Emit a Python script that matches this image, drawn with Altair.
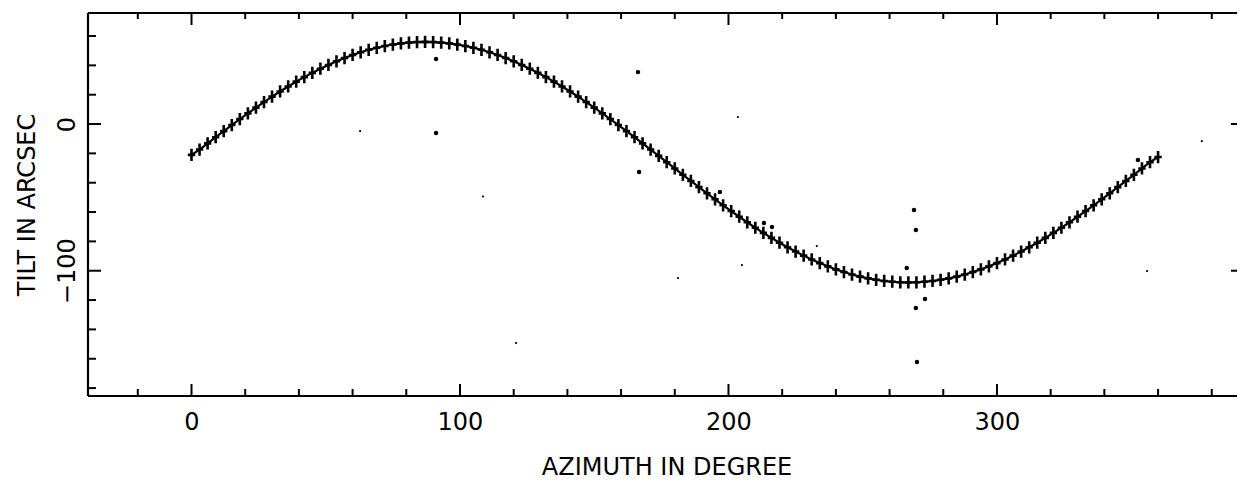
import altair as alt
import pandas as pd

# ---- data ----
azimuth = [0, 3, 6, 9, 12, 15, 18, 21, 24, 27, 30, 33, 36, 39, 42, 45, 48, 51, 54, 57,
           60, 63, 66, 69, 72, 75, 78, 81, 84, 87, 90, 93, 96, 99, 102, 105, 108, 111, 114, 117,
           120, 123, 126, 129, 132, 135, 138, 141, 144, 147, 150, 153, 156, 159, 162, 165, 168, 171, 174, 177,
           180, 183, 186, 189, 192, 195, 198, 201, 204, 207, 210, 213, 216, 219, 222, 225, 228, 231, 234, 237,
           240, 243, 246, 249, 252, 255, 258, 261, 264, 267, 270, 273, 276, 279, 282, 285, 288, 291, 294, 297,
           300, 303, 306, 309, 312, 315, 318, 321, 324, 327, 330, 333, 336, 339, 342, 345, 348, 351, 354, 357,
           360]
tilt = [-21.0, -17.4, -13.2, -9.0, -4.8, -0.7, 3.4, 7.3, 11.2, 15.0, 18.7, 22.2, 25.6, 28.9, 32.0, 34.9, 37.7, 40.3, 42.8, 45.0,
        47.1, 48.9, 50.6, 52.0, 53.2, 54.2, 55.0, 55.5, 55.9, 56.0, 55.9, 55.5, 55.0, 54.2, 53.2, 52.0, 50.6, 48.9, 47.1, 45.0,
        42.8, 40.3, 37.7, 34.9, 32.0, 28.9, 25.6, 22.2, 18.7, 15.0, 11.2, 7.3, 3.4, -0.7, -4.8, -9.0, -13.2, -17.4, -21.7, -26.0,
        -30.3, -34.6, -38.8, -43.0, -47.2, -51.3, -55.4, -59.3, -63.2, -67.0, -70.7, -74.2, -77.6, -80.9, -84.0, -86.9, -89.7, -92.3, -94.8, -97.0,
        -99.1, -100.9, -102.6, -104.0, -105.2, -106.2, -107.0, -107.5, -107.9, -108.0, -107.9, -107.5, -107.0, -106.2, -105.2, -104.0, -102.6, -100.9, -99.1, -97.0,
        -94.8, -92.3, -89.7, -86.9, -84.0, -80.9, -77.6, -74.2, -70.7, -67.0, -63.2, -59.3, -55.4, -51.3, -47.2, -43.0, -38.8, -34.6, -30.3, -26.0,
        -22.5]

out_azimuth = [91.1, 91.1, 166.3, 203.5, 166.7, 108.6, 196.8, 213.2, 216.2, 62.8, 269.1, 269.8,
               352.5, 376.3, 232.9, 266.4, 273.2, 269.8, 270.2, 355.9, 120.9, 181.2, 205.0]
out_tilt = [44.3, -6.1, 35.4, 4.8, -32.7, -49.4, -46.4, -67.5, -70.2, -4.8, -58.6, -72.3,
            -24.5, -11.6, -83.2, -98.2, -119.3, -125.4, -162.2, -100.2, -149.3, -105.0, -96.1]
out_dot = [20, 20, 20, 5, 20, 5, 20, 20, 20, 5, 20, 20, 20, 5, 5, 20, 20, 20, 20, 5, 5, 5, 5]

x_major = [0, 100, 200, 300]
x_minor = [-20, 20, 40, 60, 80, 120, 140, 160, 180, 220, 240, 260, 280, 320, 340, 360, 380]
y_major = [0, -100]
y_minor = [60, 40, 20, -20, -40, -60, -80, -120, -140, -160, -180]

x_domain = [-38.55, 389.4]
y_domain = [-185.4, 75.7]

W, H = 1149, 383
FONT = "DejaVu Sans"

curve = pd.DataFrame({"az": azimuth, "tilt": tilt})
outl = pd.DataFrame({"az": out_azimuth, "tilt": out_tilt, "dot": out_dot})
xmaj = pd.DataFrame({"v": x_major})
xmin = pd.DataFrame({"v": x_minor})
ymaj = pd.DataFrame({"v": y_major})
ymin = pd.DataFrame({"v": y_minor})

xs = alt.Scale(domain=x_domain, nice=False, zero=False)
ys = alt.Scale(domain=y_domain, nice=False, zero=False)

x_axis = alt.Axis(values=x_major, ticks=False, tickSize=0, domain=False, grid=False,
                  labelFont=FONT, labelFontSize=24, labelColor="black", labelPadding=14.5,
                  labelFlush=False,
                  title="AZIMUTH IN DEGREE", titleFont=FONT, titleFontSize=24,
                  titleFontWeight="normal", titleColor="black", titleBaseline="top",
                  titleY=59, titleX=(1157) / 2, titleAlign="center")
y_axis = alt.Axis(values=y_major, ticks=False, tickSize=0, domain=False, grid=False,
                  labelFont=FONT, labelFontSize=24, labelColor="black", labelPadding=8.5,
                  labelAngle=270, labelAlign="center", labelBaseline="bottom",
                  title="TILT IN ARCSEC", titleFont=FONT, titleFontSize=24,
                  titleFontWeight="normal", titleColor="black", titleAngle=270,
                  titleAlign="center", titleBaseline="bottom", titleX=-49, titleY=H / 2)

line = alt.Chart(curve).mark_line(color="black", strokeWidth=2.2).encode(
    x=alt.X("az:Q", scale=xs, axis=x_axis),
    y=alt.Y("tilt:Q", scale=ys, axis=y_axis),
)
plus = alt.Chart(curve).mark_point(
    shape="M-0.6,0H0.6M0,-1V1", filled=False, stroke="black", strokeWidth=2.6,
    size=150, opacity=1,
).encode(x=alt.X("az:Q", scale=xs), y=alt.Y("tilt:Q", scale=ys))

dots = alt.Chart(outl).mark_circle(color="black", opacity=1).encode(
    x=alt.X("az:Q", scale=xs), y=alt.Y("tilt:Q", scale=ys),
    size=alt.Size("dot:Q", scale=None, legend=None),
)

# frame (left, top, bottom)
frame_top = alt.Chart().mark_rule(color="black", strokeWidth=2.2).encode(
    x=alt.value(0), x2=alt.value(W), y=alt.value(0))
frame_bottom = alt.Chart().mark_rule(color="black", strokeWidth=2.2).encode(
    x=alt.value(0), x2=alt.value(W), y=alt.value(H))
frame_left = alt.Chart().mark_rule(color="black", strokeWidth=2.2).encode(
    x=alt.value(0), y=alt.value(0), y2=alt.value(H))

def xticks(df, y0, y1):
    return alt.Chart(df).mark_rule(color="black", strokeWidth=2).encode(
        x=alt.X("v:Q", scale=xs), y=alt.value(y0), y2=alt.value(y1))

def yticks(df, x0, x1):
    return alt.Chart(df).mark_rule(color="black", strokeWidth=2).encode(
        y=alt.Y("v:Q", scale=ys), x=alt.value(x0), x2=alt.value(x1))

ticks = [
    xticks(xmaj, H, H - 12), xticks(xmin, H, H - 7),
    xticks(xmaj, 0, 12), xticks(xmin, 0, 6),
    yticks(ymaj, 0, 13), yticks(ymin, 0, 8),
    yticks(ymaj, W, W - 6),
]

chart = alt.layer(line, plus, dots, frame_top, frame_bottom, frame_left, *ticks).properties(
    width=W, height=H,
    padding={"left": 80, "top": 5, "right": 0, "bottom": 88},
    autosize=alt.AutoSizeParams(type="none"),
).configure_view(strokeWidth=0).configure(background="white")

chart.save("out.html", embed_options={"renderer": "svg", "actions": False})
